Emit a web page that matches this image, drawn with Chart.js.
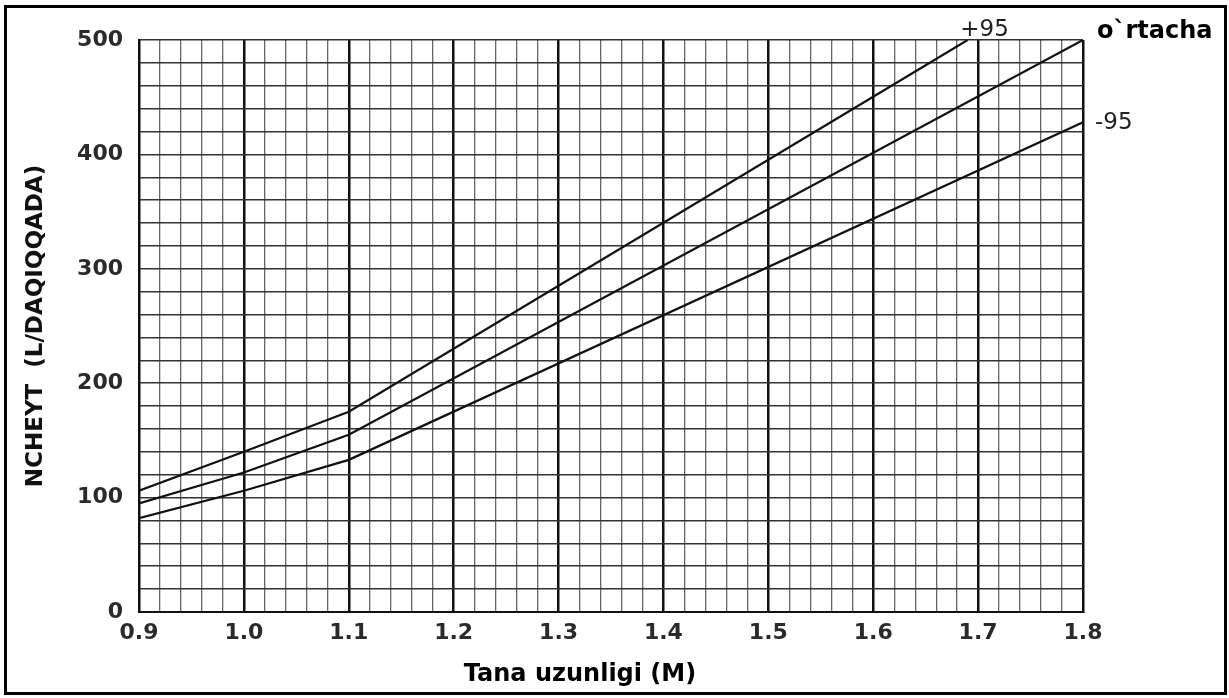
<!DOCTYPE html>
<html>
<head>
<meta charset="utf-8">
<script src="https://cdn.jsdelivr.net/npm/chart.js@4"></script>
<style>
  html, body { margin: 0; padding: 0; background: #fff; }
  #wrap { position: relative; width: 1229px; height: 698px; }
</style>
</head>
<body>
<div id="wrap"><canvas id="chart"></canvas></div>
<script>
const upperX = [0.9, 1.0, 1.1, 1.69];
const meanX = [0.9, 1.0, 1.1, 1.8];
const lowerX = [0.9, 1.0, 1.1, 1.8];
// flow values (L/min)
const upperFlow = [106, 140, 175, 500];
const meanFlow = [95, 122, 155, 500];
const lowerFlow = [82, 106, 133, 428];

const seriesNames = ['+95', "o`rtacha", '-95'];
const xLabelTicks = [0.9, 1.0, 1.1, 1.2, 1.3, 1.4, 1.5, 1.6, 1.7, 1.8];
const yLabelTicks = [0, 100, 200, 300, 400, 500];
const xMinorStep = 0.02;
const yMinorStep = 20;
const xTitle = 'Tana uzunligi (M)';
const yTitle = 'NCHEYT  (L/DAQIQQADA)';

const FONT = '"DejaVu Sans", Verdana, sans-serif';

function toPoints(xs, ys) {
  return xs.map((x, i) => ({ x: x, y: ys[i] }));
}

function isLabelX(v) {
  return xLabelTicks.some(t => Math.abs(t - v) < 1e-6);
}

const lineStyle = {
  borderColor: '#111',
  borderWidth: 2.2,
  pointRadius: 0,
  showLine: true,
  fill: false,
  tension: 0
};

// series names, x title and outer frame
const extrasPlugin = {
  id: 'extras',
  afterDraw(chart) {
    const ctx = chart.ctx;
    const xs = chart.scales.x;
    const ys = chart.scales.y;
    const area = chart.chartArea;
    ctx.save();
    ctx.textBaseline = 'middle';

    ctx.font = '23px ' + FONT;
    ctx.fillStyle = '#222';
    ctx.textAlign = 'center';
    ctx.fillText(seriesNames[0], xs.getPixelForValue(upperX[upperX.length - 1]) + 17, area.top - 10);

    ctx.font = 'bold 24px ' + FONT;
    ctx.textAlign = 'left';
    ctx.fillStyle = '#000';
    ctx.fillText(seriesNames[1], area.right + 14, area.top - 8);

    ctx.font = '23px ' + FONT;
    ctx.fillStyle = '#222';
    ctx.fillText(seriesNames[2], area.right + 12, ys.getPixelForValue(lowerFlow[lowerFlow.length - 1]) + 1);

    ctx.font = 'bold 24px ' + FONT;
    ctx.fillStyle = '#000';
    ctx.textAlign = 'center';
    ctx.fillText(xTitle, 580, 675);

    ctx.strokeStyle = '#000';
    ctx.lineWidth = 3;
    ctx.strokeRect(5.5, 6.5, chart.width - 9, chart.height - 11);
    ctx.restore();
  }
};

new Chart(document.getElementById('chart'), {
  type: 'scatter',
  data: {
    datasets: [
      Object.assign({ label: seriesNames[0], data: toPoints(upperX, upperFlow) }, lineStyle),
      Object.assign({ label: seriesNames[1], data: toPoints(meanX, meanFlow) }, lineStyle),
      Object.assign({ label: seriesNames[2], data: toPoints(lowerX, lowerFlow) }, lineStyle)
    ]
  },
  options: {
    responsive: true,
    maintainAspectRatio: false,
    animation: false,
    layout: { padding: { left: 0, top: 40, right: 146, bottom: 0 } },
    plugins: {
      legend: { display: false },
      tooltip: { enabled: false }
    },
    scales: {
      x: {
        type: 'linear',
        min: 0.9,
        max: 1.8,
        afterBuildTicks(scale) {
          const ticks = [];
          const n = Math.round((1.8 - 0.9) / xMinorStep);
          for (let i = 0; i <= n; i++) {
            ticks.push({ value: Math.round((0.9 + i * xMinorStep) * 100) / 100 });
          }
          scale.ticks = ticks;
        },
        afterFit(scale) { scale.height = 86; },
        grid: {
          drawTicks: false,
          color: ctx => isLabelX(ctx.tick.value) ? '#111' : '#666',
          lineWidth: ctx => isLabelX(ctx.tick.value) ? 2.5 : 1.3
        },
        border: { display: true, color: '#111', width: 2 },
        ticks: {
          autoSkip: false,
          maxRotation: 0,
          padding: 8,
          color: '#2a2a2a',
          font: { family: FONT, size: 22, weight: 'bold' },
          callback: v => isLabelX(v) ? v.toFixed(1) : ''
        }
      },
      y: {
        type: 'linear',
        min: 0,
        max: 500,
        ticks: {
          stepSize: yMinorStep,
          autoSkip: false,
          padding: 16,
          color: '#2a2a2a',
          font: { family: FONT, size: 22, weight: 'bold' },
          callback: v => yLabelTicks.includes(v) ? String(v) : ''
        },
        afterFit(scale) { scale.width = 139; },
        grid: {
          drawTicks: false,
          color: '#333',
          lineWidth: 1.5
        },
        border: { display: true, color: '#111', width: 2 },
        title: {
          display: true,
          text: yTitle,
          color: '#111',
          font: { family: FONT, size: 23, weight: 'bold' },
          padding: { top: 22, bottom: 0 }
        }
      }
    }
  },
  plugins: [extrasPlugin]
});
</script>
</body>
</html>
